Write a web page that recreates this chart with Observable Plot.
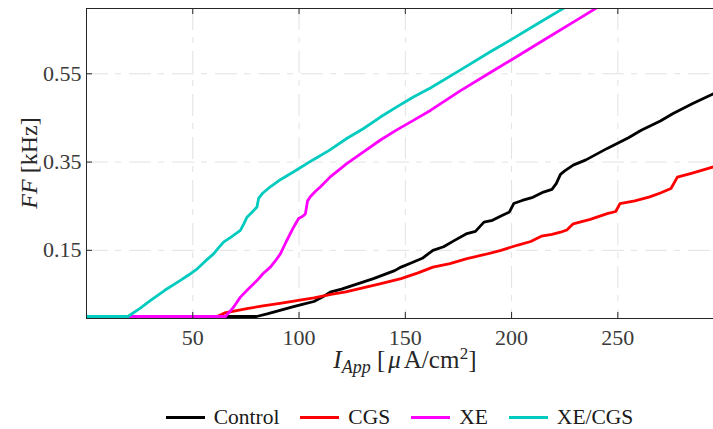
<!DOCTYPE html>
<html>
<head>
<meta charset="utf-8">
<script src="https://cdn.jsdelivr.net/npm/d3@7"></script>
<script src="https://cdn.jsdelivr.net/npm/@observablehq/plot@0.6"></script>
<style>
  html, body { margin: 0; padding: 0; background: #fff; }
  #chart svg { display: block; }
  #chart svg text { font-family: 'Liberation Serif', serif !important; }
  #legend { display: flex; justify-content: center; align-items: center; padding-left: 86px; padding-top: 25px; width: 627px; height: 24px; font-family: 'Liberation Serif', serif; font-size: 21.5px; color: #1a1a1a; }
  .item { display: flex; align-items: center; margin: 0 10.5px; }
  .swatch { width: 39px; height: 3px; margin-right: 9px; }
</style>
</head>
<body>
<div id="chart"></div>
<div id="legend"></div>
<script>
const seriesNames = ["Control", "CGS", "XE", "XE/CGS"];
const seriesColors = ["#000000", "#ff0000", "#ff00ff", "#00cbbe"];
const xTicks = [50, 100, 150, 200, 250];
const yTicks = [0.15, 0.35, 0.55];

const controlX = [0, 80, 85, 91, 97, 102, 107, 111, 115, 120, 125, 130, 135, 140, 145, 148, 153, 158, 163, 168, 173, 179, 183, 187, 191, 195, 199, 201, 205, 210, 215, 219, 221, 223, 225, 229, 235, 245, 255, 261, 270, 276, 285, 295];
const controlY = [0, 0, 0.006, 0.014, 0.022, 0.028, 0.034, 0.044, 0.056, 0.062, 0.07, 0.078, 0.086, 0.095, 0.104, 0.112, 0.122, 0.132, 0.15, 0.158, 0.172, 0.188, 0.193, 0.214, 0.218, 0.228, 0.237, 0.256, 0.263, 0.27, 0.282, 0.288, 0.301, 0.322, 0.33, 0.343, 0.355, 0.381, 0.405, 0.422, 0.443, 0.46, 0.482, 0.505];

const cgsX = [0, 61.5, 65, 70, 75.5, 83, 91, 99, 107, 115, 122, 130, 138, 148, 156, 163, 171, 179, 187, 195, 203, 209, 214, 219, 223, 226, 229, 237, 245, 249, 251, 258, 265, 270, 275, 278, 285, 295];
const cgsY = [0, 0, 0.008, 0.013, 0.018, 0.024, 0.03, 0.036, 0.042, 0.05, 0.056, 0.065, 0.074, 0.086, 0.099, 0.112, 0.12, 0.131, 0.14, 0.15, 0.162, 0.17, 0.182, 0.186, 0.191, 0.196, 0.21, 0.22, 0.233, 0.238, 0.256, 0.262, 0.271, 0.28, 0.29, 0.316, 0.325, 0.339];

const xeX = [0, 65.4, 69, 72.4, 76, 80.3, 83, 86.5, 89, 91.2, 94, 97.5, 99.8, 102, 103, 104, 105.4, 108, 110.1, 114.8, 122.6, 130, 138.3, 146, 154, 161.8, 176, 190, 200, 215, 230, 245];
const xeY = [0, 0, 0.02, 0.044, 0.062, 0.082, 0.097, 0.112, 0.127, 0.142, 0.17, 0.203, 0.222, 0.228, 0.233, 0.262, 0.272, 0.285, 0.294, 0.317, 0.347, 0.372, 0.4, 0.423, 0.445, 0.467, 0.512, 0.553, 0.582, 0.626, 0.67, 0.714];

const xecgsX = [0, 19.5, 25, 30, 37, 44.2, 48, 52.1, 56, 59.9, 62, 64.6, 68, 72.4, 74, 75.5, 78, 80.2, 81, 83, 86.5, 91.2, 97.5, 106.9, 114, 122.6, 130, 138.3, 146, 154, 161.8, 176, 190, 200, 212, 225, 232];
const xecgsY = [0, 0, 0.018, 0.036, 0.06, 0.082, 0.094, 0.108, 0.126, 0.1425, 0.155, 0.169, 0.18, 0.195, 0.21, 0.225, 0.237, 0.248, 0.268, 0.28, 0.294, 0.31, 0.328, 0.356, 0.376, 0.404, 0.425, 0.452, 0.475, 0.498, 0.518, 0.559, 0.6, 0.628, 0.663, 0.7, 0.72];

const seriesXs = [controlX, cgsX, xeX, xecgsX];
const seriesYs = [controlY, cgsY, xeY, xecgsY];
const rows = [];
seriesNames.forEach((name, i) => {
  seriesXs[i].forEach((x, j) => rows.push({name, x, y: seriesYs[i][j]}));
});

const font = "'Liberation Serif', serif";
const W = 713, H = 380;
const mL = 86, mR = 0, mT = 8, mB = 62;
const innerW = W - mL - mR, innerH = H - mT - mB;
const gridDash = "22,7,6,8";

const plot = Plot.plot({
  width: W, height: H,
  marginLeft: mL, marginRight: mR, marginTop: mT, marginBottom: mB,
  style: {fontFamily: font, fontSize: "22px", background: "#fff", color: "#3a3a3a"},
  x: {domain: [0, 295]},
  y: {domain: [-0.0045, 0.698]},
  color: {domain: seriesNames, range: seriesColors},
  marks: [
    Plot.gridX(xTicks, {stroke: "#e2e2e2", strokeOpacity: 1, strokeDasharray: gridDash}),
    Plot.gridY(yTicks, {stroke: "#e2e2e2", strokeOpacity: 1, strokeDasharray: gridDash}),
    Plot.line(rows, {x: "x", y: "y", z: "name", stroke: "name", strokeWidth: 2.8, clip: true, curve: "linear"}),
    Plot.axisX(xTicks, {tickSize: 0, tickPadding: 11, label: null, tickFormat: d => String(d), fill: "#3a3a3a", fontSize: 22}),
    Plot.axisY(yTicks, {tickSize: 0, tickPadding: 5, label: null, tickFormat: d => d.toFixed(2), fill: "#3a3a3a", fontSize: 22}),
    Plot.tickX(xTicks, {x: d => d, insetTop: innerH - 6, stroke: "#262626"}),
    Plot.tickX(xTicks, {x: d => d, insetBottom: innerH - 6, stroke: "#262626"}),
    Plot.tickY(yTicks, {y: d => d, insetRight: innerW - 6, stroke: "#262626"}),
    Plot.frame({anchor: "left", stroke: "#262626"}),
    Plot.frame({anchor: "top", stroke: "#262626"}),
    Plot.frame({anchor: "bottom", stroke: "#262626"})
  ]
});

document.getElementById("chart").appendChild(plot);

// axis labels with math-style subscripts / superscripts
const svg = d3.select(plot);
const xl = svg.append("text")
  .attr("x", 405).attr("y", 368)
  .attr("text-anchor", "middle")
  .attr("font-family", font).attr("font-size", 25).attr("fill", "#262626");
xl.append("tspan").attr("font-style", "italic").text("I");
xl.append("tspan").attr("font-style", "italic").attr("font-size", 18).attr("dy", 5).text("App");
xl.append("tspan").attr("dy", -5).text(" [");
xl.append("tspan").attr("font-style", "italic").attr("dx", 3).text("μ");
xl.append("tspan").attr("dx", 3).text("A/cm");
xl.append("tspan").attr("font-size", 17).attr("dy", -9).attr("dx", 0.5).text("2");
xl.append("tspan").attr("dy", 9).text("]");

const yl = svg.append("text")
  .attr("transform", "translate(37,163) rotate(-90)")
  .attr("text-anchor", "middle")
  .attr("font-family", font).attr("font-size", 24).attr("fill", "#262626");
yl.append("tspan").attr("font-style", "italic").text("FF");
yl.append("tspan").text(" [kHz]");

// legend
const legend = d3.select("#legend");
seriesNames.forEach((name, i) => {
  const it = legend.append("div").attr("class", "item");
  it.append("div").attr("class", "swatch").style("background", seriesColors[i]);
  it.append("span").text(name);
});
</script>
</body>
</html>
